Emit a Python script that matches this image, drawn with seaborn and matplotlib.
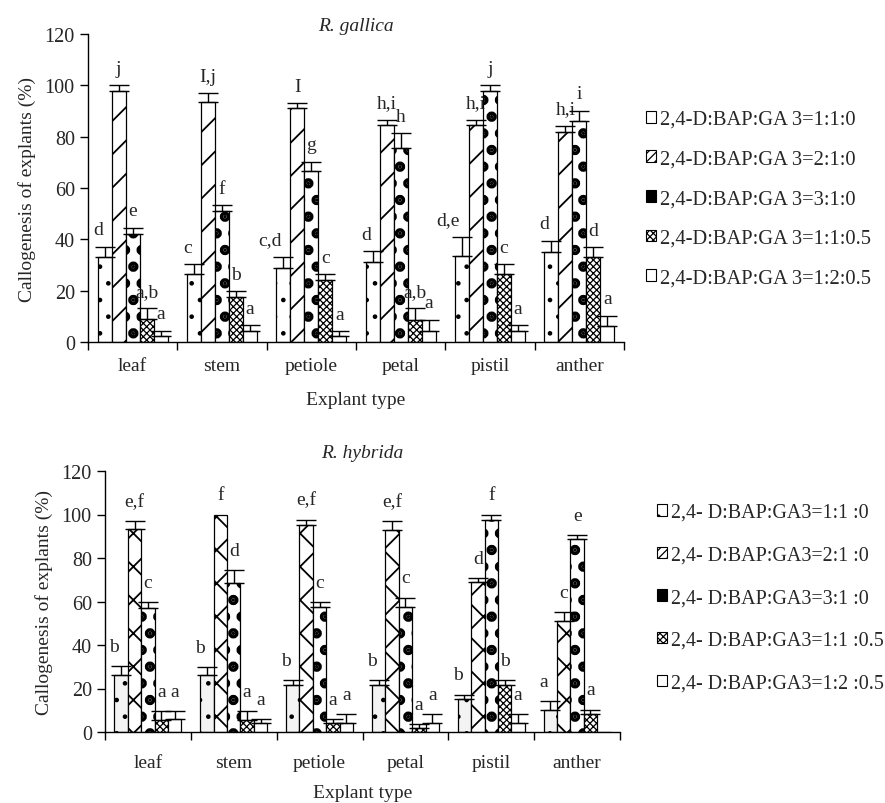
import numpy as np
import pandas as pd
import matplotlib
matplotlib.use("Agg")
import matplotlib.pyplot as plt
import matplotlib.patches as mpatches
import seaborn as sns

# ---------------- data ----------------
explants = ["leaf", "stem", "petiole", "petal", "pistil", "anther"]

gallica_labels = ["2,4-D:BAP:GA 3=1:1:0", "2,4-D:BAP:GA 3=2:1:0", "2,4-D:BAP:GA 3=3:1:0",
                  "2,4-D:BAP:GA 3=1:1:0.5", "2,4-D:BAP:GA 3=1:2:0.5"]
hybrida_labels = ["2,4- D:BAP:GA3=1:1 :0", "2,4- D:BAP:GA3=2:1 :0", "2,4- D:BAP:GA3=3:1 :0",
                  "2,4- D:BAP:GA3=1:1 :0.5", "2,4- D:BAP:GA3=1:2 :0.5"]

# R. gallica means / SE / letters per treatment
gal_110 = [33.2, 26.6, 28.9, 31.0, 33.5, 35.2]
gal_210 = [97.9, 93.4, 91.1, 84.5, 84.5, 81.9]
gal_310 = [42.2, 51.0, 66.7, 75.5, 97.8, 86.2]
gal_1105 = [8.9, 17.6, 24.3, 8.7, 26.6, 33.0]
gal_1205 = [2.2, 4.4, 2.2, 4.4, 4.4, 6.4]
gal_err_110 = [3.9, 3.7, 4.3, 4.4, 7.5, 4.3]
gal_err_210 = [2.1, 3.6, 2.0, 2.1, 2.1, 2.4]
gal_err_310 = [2.3, 2.4, 3.6, 5.9, 2.2, 3.9]
gal_err_1105 = [4.3, 2.3, 2.1, 4.5, 3.7, 3.9]
gal_err_1205 = [2.2, 2.1, 2.1, 4.3, 2.1, 3.8]
gal_let_110 = ["d", "c", "c,d", "d", "d,e", "d"]
gal_let_210 = ["j", "I,j", "I", "h,i", "h,i", "h,i"]
gal_let_310 = ["e", "f", "g", "h", "j", "i"]
gal_let_1105 = ["a,b", "b", "c", "a,b", "c", "d"]
gal_let_1205 = ["a", "a", "a", "a", "a", "a"]

# R. hybrida
hyb_110 = [26.1, 26.0, 21.5, 21.5, 15.1, 10.3]
hyb_210 = [93.2, 100.0, 95.4, 93.1, 68.8, 51.0]
hyb_310 = [57.1, 68.7, 57.5, 57.5, 97.5, 88.7]
hyb_1105 = [5.7, 5.7, 4.0, 1.7, 21.7, 8.3]
hyb_1205 = [6.0, 4.0, 4.0, 4.0, 4.0, 0.0]
hyb_err_110 = [4.1, 3.8, 2.5, 2.5, 2.1, 4.1]
hyb_err_210 = [3.9, 0.0, 2.3, 3.9, 2.1, 4.0]
hyb_err_310 = [2.7, 5.8, 2.3, 4.3, 2.5, 1.9]
hyb_err_1105 = [4.1, 4.1, 2.0, 2.0, 2.3, 2.0]
hyb_err_1205 = [3.8, 2.0, 4.3, 4.3, 4.3, 0.0]
hyb_let_110 = ["b", "b", "b", "b", "b", "a"]
hyb_let_210 = ["e,f", "f", "e,f", "e,f", "d", "c"]
hyb_let_310 = ["c", "d", "c", "c", "f", "e"]
hyb_let_1105 = ["a", "a", "a", "a", "b", "a"]
hyb_let_1205 = ["a", "a", "a", "a", "a", ""]

# ---------------- style ----------------
sns.set_style("ticks")
plt.rcParams["font.family"] = ["Liberation Serif", "DejaVu Serif"]
plt.rcParams["hatch.linewidth"] = 0.9
FS = 14

hatches_top = [".", "/", ".", "xxxxx", ""]
hatches_bot = [".", "x", ".", "xxxxx", ""]
hatch_lw_top = [0.9, 1.3, 5.0, 0.9, 0.9]
hatch_lw_bot = [0.9, 1.3, 5.0, 0.9, 0.9]
face_bot = ["#f3f3f3", "white", "white", "white", "white"]
face_top = ["white"] * 5

fig = plt.figure(figsize=(8.85, 8.04), dpi=100)
ax1 = fig.add_axes([88 / 885, (804 - 343) / 804, (624 - 88) / 885, (343 - 35) / 804])
ax2 = fig.add_axes([105 / 885, (804 - 733) / 804, (620 - 105) / 885, (733 - 472) / 804])


def panel(ax, labels, means, errs, lets, hatches, hlw, faces, title, title_pad,
          lab_off, tick_pad, xlab_pad):
    rows = []
    for lab, m in zip(labels, means):
        for ex, v in zip(explants, m):
            rows.append({"explant": ex, "value": v, "treatment": lab})
    df = pd.DataFrame(rows)
    sns.barplot(data=df, x="explant", y="value", hue="treatment", order=explants,
                hue_order=labels, palette=faces, saturation=1,
                edgecolor="black", linewidth=0.9, width=0.78, gap=0,
                errorbar=None, legend=False, ax=ax)
    bar_conts = list(ax.containers)
    for i, cont in enumerate(bar_conts):
        for p in cont:
            p.set_hatch(hatches[i])
            if hasattr(p, "set_hatch_linewidth"):
                p.set_hatch_linewidth(hlw[i])
        xs = np.array([p.get_x() + p.get_width() / 2 for p in cont])
        ys = np.array([p.get_height() for p in cont])
        bw = cont[0].get_width()
        e = np.array(errs[i])
        mask = e > 0
        ax.errorbar(xs[mask], ys[mask], yerr=[np.zeros(mask.sum()), e[mask]], fmt="none",
                    ecolor="black", elinewidth=1.0, capsize=7, capthick=1.0, zorder=5)
        for j, t in enumerate(lets[i]):
            if not t:
                continue
            if i == 0:
                x, ha = xs[j] - 0.15 * bw, "right"
            else:
                x, ha = xs[j], "center"
            ax.annotate(t, (x, ys[j] + e[j]), xytext=(0, lab_off), textcoords="offset points",
                        ha=ha, va="bottom", fontsize=FS)
    ax.set_ylim(0, 120)
    ax.set_yticks(np.arange(0, 121, 20))
    ax.set_xlim(-0.5, 5.5)
    ax.set_xticks(np.arange(-0.5, 6, 1), minor=True)
    ax.tick_params(axis="x", which="major", length=0, labelsize=FS, pad=tick_pad)
    ax.tick_params(axis="x", which="minor", length=6, width=1, direction="out", color="black")
    ax.tick_params(axis="y", length=6, width=1, direction="out", labelsize=14.5, color="black")
    for s in ["top", "right"]:
        ax.spines[s].set_visible(False)
    for s in ["left", "bottom"]:
        ax.spines[s].set_color("black")
        ax.spines[s].set_linewidth(1.0)
    ax.set_xlabel("Explant type", fontsize=FS, labelpad=xlab_pad)
    ax.set_ylabel("Callogenesis of explants (%)", fontsize=FS, labelpad=6)
    ax.set_title(title, fontsize=FS, style="italic", pad=title_pad)


panel(ax1, gallica_labels,
      [gal_110, gal_210, gal_310, gal_1105, gal_1205],
      [gal_err_110, gal_err_210, gal_err_310, gal_err_1105, gal_err_1205],
      [gal_let_110, gal_let_210, gal_let_310, gal_let_1105, gal_let_1205],
      hatches_top, hatch_lw_top, face_top, "R. gallica", 2, 6, 11, 12)
panel(ax2, hybrida_labels,
      [hyb_110, hyb_210, hyb_310, hyb_1105, hyb_1205],
      [hyb_err_110, hyb_err_210, hyb_err_310, hyb_err_1105, hyb_err_1205],
      [hyb_let_110, hyb_let_210, hyb_let_310, hyb_let_1105, hyb_let_1205],
      hatches_bot, hatch_lw_bot, face_bot, "R. hybrida", 10, 8, 16, 9)

# small legend swatches (as drawn in the source figure)
leg_hatch = [".", "////", "", "xxxxx", ""]
leg_face = ["white", "white", "black", "white", "white"]


def legend(labels, anchor, spacing, fs):
    handles = [mpatches.Patch(facecolor=fc, edgecolor="black", linewidth=0.8, hatch=h)
               for h, fc in zip(leg_hatch, leg_face)]
    fig.legend(handles, labels, loc="upper left", bbox_to_anchor=anchor,
               bbox_transform=fig.transFigure, frameon=False, fontsize=fs,
               handlelength=0.5, handleheight=0.5, handletextpad=0.2,
               labelspacing=spacing, borderpad=0, borderaxespad=0)


legend(gallica_labels, (646 / 885, 1 - 111 / 804), 1.0, 14.8)
legend(hybrida_labels, (657 / 885, 1 - 504 / 804), 1.18, 14.4)

fig.savefig("out.png", dpi=100)
